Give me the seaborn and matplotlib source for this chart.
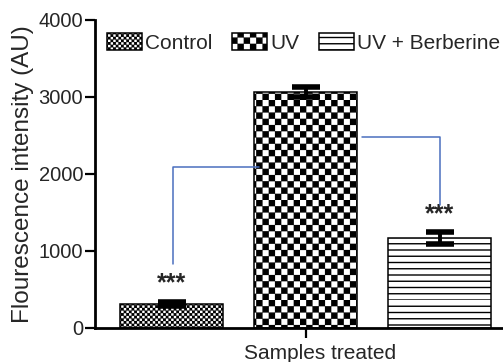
import warnings
import numpy as np
import pandas as pd
import seaborn as sns
import matplotlib
matplotlib.use('Agg')
import matplotlib.pyplot as plt
import matplotlib.hatch as mhatch
from matplotlib.path import Path
from matplotlib.patches import Patch

warnings.filterwarnings('ignore')

# data
samples = ['Control', 'UV', 'UV + Berberine']
intensity = [310, 3065, 1165]
error = [25, 70, 75]

# significance marks (*** over Control and UV + Berberine)
star_pos = [0, 2]
star_y = [580, 1480]

# blue connector lines between the bars
bracket_left_x = [0.01, 0.01, 0.65]
bracket_left_y = [830, 2085, 2085]
bracket_right_x = [1.42, 2.0, 2.0]
bracket_right_y = [2485, 2485, 1600]


# custom hatches: 'k' = checkerboard, 'h' = horizontal lines
class CheckerHatch(mhatch.HatchPatternBase):
    def __init__(self, hatch, density):
        self.cells = 2 * hatch.count('k')
        self.num_vertices = (self.cells ** 2 // 2) * 5

    def set_vertices_and_codes(self, vertices, codes):
        step = 1.0 / self.cells
        inset = 0.006
        square = np.array([[0, 0], [1, 0], [1, 1], [0, 1], [0, 0]]) * (step - 2 * inset) + inset
        sq_codes = [Path.MOVETO, Path.LINETO, Path.LINETO, Path.LINETO, Path.CLOSEPOLY]
        k = 0
        for row in range(self.cells):
            for col in range(row % 2, self.cells, 2):
                vertices[k:k + 5] = square + [col * step, row * step]
                codes[k:k + 5] = sq_codes
                k += 5


class LineHatch(mhatch.HatchPatternBase):
    def __init__(self, hatch, density):
        self.lines = hatch.count('h')
        self.num_vertices = self.lines * 2

    def set_vertices_and_codes(self, vertices, codes):
        for i in range(self.lines):
            y = i / self.lines
            vertices[2 * i:2 * i + 2] = [[0, y], [1, y]]
            codes[2 * i:2 * i + 2] = [Path.MOVETO, Path.LINETO]


mhatch._hatch_types.append(CheckerHatch)
mhatch._hatch_types.append(LineHatch)

hatches = ['k' * 19, 'k' * 8, 'h' * 16]

df = pd.DataFrame({'sample': samples, 'intensity': intensity})

sns.set_style('ticks')
plt.rcParams['font.family'] = ['Liberation Sans', 'DejaVu Sans']
plt.rcParams['hatch.color'] = 'black'

fig = plt.figure(figsize=(5.03, 3.62), dpi=100)
# the axes run past the right edge of the picture, as in the cropped original
ax = fig.add_axes([0.189, 0.094, 0.895, 0.851])

sns.barplot(data=df, x='sample', y='intensity', hue='sample', order=samples,
            hue_order=samples, palette=['white'] * 3, edgecolor='black',
            linewidth=1.1, width=0.77, errorbar=None, legend=False, ax=ax)
for bar, h in zip(ax.patches, hatches):
    bar.set_hatch(h)

ax.errorbar(np.arange(len(samples)), intensity, yerr=error, fmt='none',
            ecolor='black', elinewidth=2.8, capsize=10, capthick=4, zorder=5)

ax.plot(bracket_left_x, bracket_left_y, color='#4a6fbf', lw=1.1, zorder=6)
ax.plot(bracket_right_x, bracket_right_y, color='#4a6fbf', lw=1.1, zorder=6)
for x, y in zip(star_pos, star_y):
    ax.text(x, y, '***', ha='center', va='center', fontsize=18, fontweight='bold')

ax.set_xlim(-0.571, 2.787)
ax.set_ylim(0, 4000)
ax.set_yticks([0, 1000, 2000, 3000, 4000])
ax.set_xticks([1])
ax.set_xticklabels([''])
ax.tick_params(axis='both', length=7.5, width=1.6, labelsize=14.5, pad=1, color='black')
for side in ['left', 'bottom']:
    ax.spines[side].set_linewidth(2)
    ax.spines[side].set_color('black')
sns.despine(ax=ax)

ax.set_ylabel('Flourescence intensity (AU)', fontsize=17.5, labelpad=3)
ax.set_xlabel('Samples treated', fontsize=15, labelpad=3)

handles = [Patch(facecolor='white', edgecolor='black', linewidth=1.1, hatch=h)
           for h in hatches]
fig.legend(handles, samples, loc='center left', bbox_to_anchor=(0.2127, 0.881),
           ncol=3, frameon=False, fontsize=15, handlelength=1.67,
           handleheight=0.86, handletextpad=0.15, columnspacing=0.95,
           borderpad=0, borderaxespad=0)

fig.savefig('out.png', dpi=100)
